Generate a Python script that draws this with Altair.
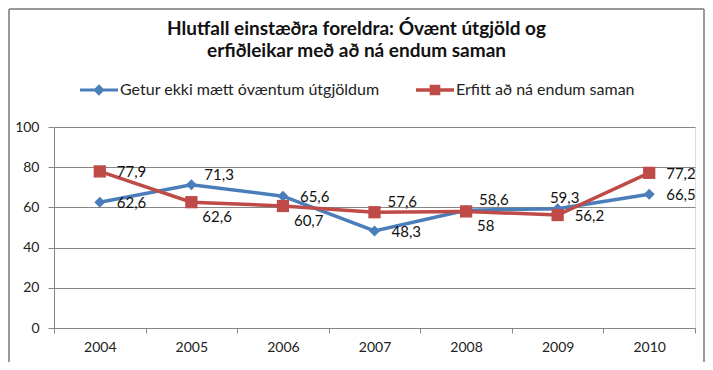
import altair as alt
import pandas as pd

years = ["2004", "2005", "2006", "2007", "2008", "2009", "2010"]
series_names = ["Getur ekki mætt óvæntum útgjöldum", "Erfitt að ná endum saman"]
blue_values = [62.6, 71.3, 65.6, 48.3, 58.6, 59.3, 66.5]
red_values = [77.9, 62.6, 60.7, 57.6, 58.0, 56.2, 77.2]
title_lines = ["Hlutfall einstæðra foreldra: Óvænt útgjöld og",
               "erfiðleikar með að ná endum saman"]
y_ticks = [0, 20, 40, 60, 80, 100]

# label placement (style, separate from the data)
blue_place = ["r", "ar", "r", "r", "ar", "a", "r"]
red_place = ["r", "br", "br", "ar", "br", "r", "r"]
place_style = {
    "r": dict(align="left", dx=17, dy=1),
    "ar": dict(align="left", dx=13, dy=-10),
    "br": dict(align="left", dx=11, dy=15),
    "a": dict(align="center", dx=7, dy=-11),
}

colors = ["#4A7EBB", "#BE4B48"]
FONT = "Lato"

rows = []
for name, vals, places in [(series_names[0], blue_values, blue_place),
                           (series_names[1], red_values, red_place)]:
    for y, v, p in zip(years, vals, places):
        lab = (f"{v:g}").replace(".", ",")
        rows.append({"year": y, "series": name, "value": v, "label": lab, "place": p})
df = pd.DataFrame(rows)

x_enc = alt.X("year:N", scale=alt.Scale(type="band", paddingInner=0, paddingOuter=0),
              axis=alt.Axis(title=None, labelAngle=0, tickBand="extent", tickSize=5,
                            tickColor="#868686", domainColor="#868686", labelFont=FONT,
                            labelFontSize=14, labelColor="#222", labelPadding=7,
                            grid=False))
y_enc = alt.Y("value:Q", scale=alt.Scale(domain=[0, 100], nice=False),
              axis=alt.Axis(title=None, values=y_ticks, tickSize=6, tickColor="#868686",
                            domainColor="#868686", gridColor="#868686", grid=True,
                            labelFont=FONT, labelFontSize=14, labelColor="#222",
                            labelPadding=9))
color_scale = alt.Scale(domain=series_names, range=colors)

base = alt.Chart(df)

def sel(i):
    return base.transform_filter(alt.datum.series == series_names[i])

col_plain = alt.Color("series:N", scale=color_scale, legend=None)

blue_line = sel(0).mark_line(strokeWidth=3.5).encode(x=x_enc, y=y_enc, color=col_plain)
red_line = sel(1).mark_line(strokeWidth=3.5).encode(x=x_enc, y=y_enc, color=col_plain)
blue_pts = sel(0).mark_point(shape="diamond", filled=True, size=120, opacity=1).encode(
    x=x_enc, y=y_enc, color=col_plain)
red_pts = sel(1).mark_point(shape="square", filled=True, size=150, opacity=1).encode(
    x=x_enc, y=y_enc, color=col_plain)

legend_shapes = [
    "M-1,-0.08H1V0.08H-1Z M0,-0.3L0.3,0L0,0.3L-0.3,0Z",
    "M-1,-0.09H1V0.09H-1Z M-0.28,-0.28H0.28V0.28H-0.28Z",
]
leg = alt.Legend(title=None, orient="none", direction="horizontal",
                 legendX=26, legendY=-56, symbolSize=1444, symbolStrokeWidth=0,
                 labelFont=FONT, labelFontSize=16, labelColor="#222", labelOffset=2,
                 labelLimit=0, columnPadding=36, padding=0)
# legend-only layer: no rows drawn, entries come from the explicit scale domains
legend_layer = base.transform_filter("false").mark_point(filled=True, opacity=1).encode(
    x=x_enc, y=y_enc,
    color=alt.Color("series:N", scale=color_scale, legend=leg),
    shape=alt.Shape("series:N", scale=alt.Scale(domain=series_names, range=legend_shapes),
                    legend=leg),
)

text_layers = []
for key, st in place_style.items():
    text_layers.append(
        base.transform_filter(alt.datum.place == key).mark_text(
            font=FONT, fontSize=15, color="#111", baseline="middle", **st).encode(
            x=x_enc, y=y_enc, text="label:N")
    )

border = alt.Chart(pd.DataFrame({"k": [0]})).mark_rule(color="#9a9a9a", strokeWidth=2)
b_left = border.encode(x=alt.value(-45), y=alt.value(-118), y2=alt.value(240))
b_top = border.encode(x=alt.value(-45), x2=alt.value(650), y=alt.value(-118))
b_right = border.encode(x=alt.value(650), y=alt.value(-118), y2=alt.value(240))

chart = alt.layer(
    blue_line, red_line, blue_pts, red_pts, legend_layer, *text_layers,
    b_left, b_top, b_right,
).resolve_legend(color="independent", shape="independent").properties(
    width=641, height=201,
    autosize=alt.AutoSizeParams(type="none"),
    padding={"left": 46, "top": 119, "right": 10, "bottom": 34},
    title=alt.TitleParams(text=title_lines, font=FONT, fontSize=19, fontWeight="bold",
                          color="#111", anchor="middle", dx=-18, offset=0, dy=53,
                          lineHeight=22),
).configure_view(stroke=None).configure(background="white")

chart.save("out.html", embed_options={"renderer": "svg", "actions": False})
